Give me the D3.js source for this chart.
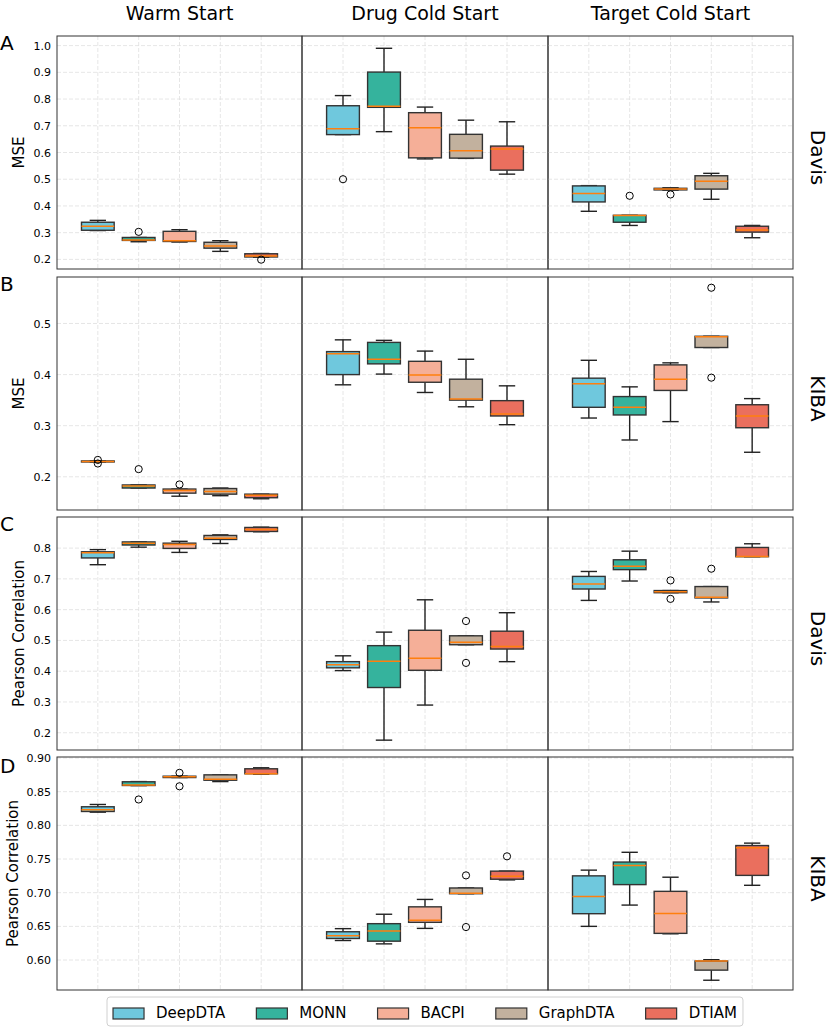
<!DOCTYPE html>
<html>
<head>
<meta charset="utf-8">
<script src="https://cdn.jsdelivr.net/npm/d3@7"></script>
<style>
body { margin: 0; background: #fff; }
text { font-family: "DejaVu Sans", sans-serif; fill: #000; }
</style>
</head>
<body>
<svg id="chart" width="830" height="1029"></svg>
<script>
var models = ["DeepDTA", "MONN", "BACPI", "GraphDTA", "DTIAM"];
var modelColors = ["#6fc8dd", "#35b39d", "#f5af98", "#c2b19e", "#ea6f5e"];
var settings = ["Warm Start", "Drug Cold Start", "Target Cold Start"];
var rowLetters = ["A", "B", "C", "D"];
var rowDatasets = ["Davis", "KIBA", "Davis", "KIBA"];
var rowMetrics = ["MSE", "MSE", "Pearson Correlation", "Pearson Correlation"];

// one entry per model: [whisker low, q1, median, q3, whisker high, outliers]
// grouped by setting: warm, drug cold, target cold
var davisMse = [
  [[0.308, 0.309, 0.324, 0.339, 0.346, []], [0.266, 0.271, 0.273, 0.282, 0.282, [0.303]], [0.265, 0.267, 0.270, 0.305, 0.311, []], [0.230, 0.242, 0.250, 0.264, 0.270, []], [0.208, 0.209, 0.213, 0.221, 0.222, [0.199]]],
  [[0.667, 0.667, 0.689, 0.775, 0.813, [0.500]], [0.678, 0.769, 0.773, 0.901, 0.990, []], [0.576, 0.580, 0.693, 0.749, 0.770, []], [0.578, 0.579, 0.607, 0.668, 0.721, []], [0.519, 0.534, 0.613, 0.624, 0.715, []]],
  [[0.380, 0.415, 0.447, 0.475, 0.476, []], [0.327, 0.339, 0.364, 0.365, 0.365, [0.438]], [0.459, 0.460, 0.463, 0.466, 0.468, [0.443]], [0.425, 0.463, 0.492, 0.513, 0.522, []], [0.281, 0.302, 0.310, 0.324, 0.327, []]]
];
var kibaMse = [
  [[0.229, 0.229, 0.230, 0.231, 0.231, [0.233, 0.226]], [0.178, 0.178, 0.182, 0.184, 0.184, [0.215]], [0.162, 0.168, 0.173, 0.176, 0.176, [0.185]], [0.163, 0.166, 0.171, 0.177, 0.178, []], [0.157, 0.159, 0.164, 0.166, 0.166, []]],
  [[0.380, 0.400, 0.441, 0.445, 0.468, []], [0.401, 0.421, 0.430, 0.463, 0.467, []], [0.365, 0.385, 0.399, 0.426, 0.446, []], [0.337, 0.350, 0.352, 0.391, 0.430, []], [0.302, 0.319, 0.323, 0.349, 0.378, []]],
  [[0.315, 0.336, 0.382, 0.393, 0.428, []], [0.272, 0.321, 0.336, 0.357, 0.376, []], [0.308, 0.369, 0.391, 0.419, 0.423, []], [0.453, 0.453, 0.474, 0.475, 0.475, [0.570, 0.394]], [0.248, 0.296, 0.319, 0.341, 0.353, []]]
];
var davisPearson = [
  [[0.746, 0.768, 0.785, 0.788, 0.795, []], [0.803, 0.810, 0.816, 0.820, 0.820, []], [0.786, 0.799, 0.812, 0.816, 0.822, []], [0.815, 0.828, 0.832, 0.841, 0.843, []], [0.853, 0.854, 0.860, 0.867, 0.868, []]],
  [[0.402, 0.411, 0.421, 0.431, 0.450, []], [0.176, 0.347, 0.432, 0.483, 0.527, []], [0.290, 0.403, 0.442, 0.533, 0.632, []], [0.486, 0.486, 0.494, 0.515, 0.515, [0.563, 0.427]], [0.431, 0.472, 0.480, 0.530, 0.590, []]],
  [[0.630, 0.667, 0.683, 0.708, 0.724, []], [0.693, 0.730, 0.741, 0.762, 0.790, []], [0.655, 0.655, 0.658, 0.662, 0.662, [0.695, 0.635]], [0.625, 0.638, 0.640, 0.675, 0.675, [0.733]], [0.772, 0.772, 0.773, 0.802, 0.814, []]]
];
var kibaPearson = [
  [[0.8196, 0.8206, 0.823, 0.8276, 0.831, []], [0.859, 0.8592, 0.860, 0.8647, 0.865, [0.8384]], [0.871, 0.871, 0.872, 0.873, 0.873, [0.878, 0.858]], [0.865, 0.867, 0.8686, 0.875, 0.875, []], [0.8759, 0.8766, 0.8766, 0.884, 0.8855, []]],
  [[0.629, 0.632, 0.636, 0.642, 0.6466, []], [0.624, 0.628, 0.643, 0.654, 0.668, []], [0.647, 0.656, 0.659, 0.679, 0.690, []], [0.6985, 0.6985, 0.699, 0.707, 0.707, [0.7257, 0.649]], [0.719, 0.720, 0.7245, 0.732, 0.732, [0.754]]],
  [[0.650, 0.6688, 0.6945, 0.725, 0.7335, []], [0.6816, 0.712, 0.7405, 0.7455, 0.760, []], [0.639, 0.6396, 0.669, 0.702, 0.723, []], [0.570, 0.585, 0.5985, 0.5985, 0.6005, []], [0.711, 0.7257, 0.7668, 0.770, 0.7736, []]]
];

var davisMseTicks = [0.2, 0.3, 0.4, 0.5, 0.6, 0.7, 0.8, 0.9, 1.0];
var kibaMseTicks = [0.2, 0.3, 0.4, 0.5];
var davisPearsonTicks = [0.2, 0.3, 0.4, 0.5, 0.6, 0.7, 0.8];
var kibaPearsonTicks = [0.60, 0.65, 0.70, 0.75, 0.80, 0.85, 0.90];
var yDomains = [[0.164, 1.036], [0.135, 0.591], [0.144, 0.901], [0.5555, 0.9015]];

var rowData = [davisMse, kibaMse, davisPearson, kibaPearson];
var rowTicks = [davisMseTicks, kibaMseTicks, davisPearsonTicks, kibaPearsonTicks];
var tickFormats = [d3.format(".1f"), d3.format(".1f"), d3.format(".1f"), d3.format(".2f")];

var svg = d3.select("#chart");
svg.append("rect").attr("width", 830).attr("height", 1029).attr("fill", "#fff");

var colEdges = [57, 302, 548, 793];
var rowTops = [36, 277, 517, 757];
var rowH = 233;
var boxW = 0.8;

// column titles
settings.forEach(function(s, c) {
  svg.append("text")
    .attr("x", (colEdges[c] + colEdges[c + 1]) / 2)
    .attr("y", 20)
    .attr("text-anchor", "middle")
    .attr("font-size", "19px")
    .text(s);
});

rowData.forEach(function(data, r) {
  var top = rowTops[r];
  var y = d3.scaleLinear().domain(yDomains[r]).range([top + rowH, top]);
  var g = svg.append("g");

  data.forEach(function(setting, c) {
    var x = d3.scaleLinear().domain([0, 6]).range([colEdges[c], colEdges[c + 1]]);
    var grid = g.append("g");

    grid.selectAll(".hg").data(rowTicks[r]).enter().append("line")
      .attr("x1", colEdges[c]).attr("x2", colEdges[c + 1])
      .attr("y1", function(d) { return y(d); })
      .attr("y2", function(d) { return y(d); })
      .attr("stroke", "#e0e0e0").attr("stroke-width", 0.8)
      .attr("stroke-dasharray", "4,2");
    grid.selectAll(".vg").data(models).enter().append("line")
      .attr("x1", function(d, i) { return x(i + 1); })
      .attr("x2", function(d, i) { return x(i + 1); })
      .attr("y1", top).attr("y2", top + rowH)
      .attr("stroke", "#e0e0e0").attr("stroke-width", 0.8)
      .attr("stroke-dasharray", "4,2");

    var boxes = g.selectAll(".box" + r + c).data(setting).enter().append("g");

    // whiskers
    boxes.append("line")
      .attr("x1", function(d, i) { return x(i + 1); })
      .attr("x2", function(d, i) { return x(i + 1); })
      .attr("y1", function(d) { return y(d[0]); })
      .attr("y2", function(d) { return y(d[1]); })
      .attr("stroke", "#222").attr("stroke-width", 1.4);
    boxes.append("line")
      .attr("x1", function(d, i) { return x(i + 1); })
      .attr("x2", function(d, i) { return x(i + 1); })
      .attr("y1", function(d) { return y(d[3]); })
      .attr("y2", function(d) { return y(d[4]); })
      .attr("stroke", "#222").attr("stroke-width", 1.4);
    // caps
    [0, 4].forEach(function(k) {
      boxes.append("line")
        .attr("x1", function(d, i) { return x(i + 1 - boxW / 4); })
        .attr("x2", function(d, i) { return x(i + 1 + boxW / 4); })
        .attr("y1", function(d) { return y(d[k]); })
        .attr("y2", function(d) { return y(d[k]); })
        .attr("stroke", "#222").attr("stroke-width", 1.4);
    });
    boxes.append("rect")
      .attr("x", function(d, i) { return x(i + 1 - boxW / 2); })
      .attr("width", x(boxW) - x(0))
      .attr("y", function(d) { return y(d[3]); })
      .attr("height", function(d) { return Math.max(y(d[1]) - y(d[3]), 0.5); })
      .attr("fill", function(d, i) { return modelColors[i]; })
      .attr("stroke", "#333").attr("stroke-width", 1.4);
    boxes.append("line")
      .attr("x1", function(d, i) { return x(i + 1 - boxW / 2); })
      .attr("x2", function(d, i) { return x(i + 1 + boxW / 2); })
      .attr("y1", function(d) { return y(d[2]); })
      .attr("y2", function(d) { return y(d[2]); })
      .attr("stroke", "#ff7f0e").attr("stroke-width", 1.5);
    boxes.each(function(d, i) {
      d3.select(this).selectAll("circle").data(d[5]).enter().append("circle")
        .attr("cx", x(i + 1))
        .attr("cy", function(v) { return y(v); })
        .attr("r", 3.6)
        .attr("fill", "none").attr("stroke", "#000").attr("stroke-width", 1);
    });

    g.append("rect")
      .attr("x", colEdges[c]).attr("y", top)
      .attr("width", colEdges[c + 1] - colEdges[c]).attr("height", rowH)
      .attr("fill", "none").attr("stroke", "#333").attr("stroke-width", 1);
  });

  // y axis labels only on the first column
  var axis = d3.axisLeft(y).tickValues(rowTicks[r]).tickFormat(tickFormats[r]).tickSize(0).tickPadding(6);
  var ax = g.append("g").attr("transform", "translate(" + colEdges[0] + ",0)").call(axis);
  ax.select(".domain").remove();
  ax.selectAll("text").attr("font-size", "11px").attr("font-family", "DejaVu Sans, sans-serif");

  var labelX = r == 3 ? 13 : 19;
  svg.append("text")
    .attr("transform", "translate(" + labelX + "," + (top + rowH / 2) + ") rotate(-90)")
    .attr("text-anchor", "middle")
    .attr("dominant-baseline", "central")
    .attr("font-size", "15px")
    .text(rowMetrics[r]);

  svg.append("text")
    .attr("x", 0).attr("y", top + 14 + (r == 3 ? 2 : 0))
    .attr("font-size", "20px")
    .text(rowLetters[r]);

  svg.append("text")
    .attr("transform", "translate(818," + (top + rowH / 2 + 5) + ") rotate(90)")
    .attr("text-anchor", "middle")
    .attr("dominant-baseline", "central")
    .attr("font-size", "20px")
    .text(rowDatasets[r]);
});

// legend
var legend = svg.append("g");
var legendItems = legend.selectAll(".item").data(models).enter().append("g");
legendItems.append("text")
  .attr("font-size", "15px")
  .attr("y", 1018)
  .text(function(d) { return d; });
var widths = [];
legendItems.selectAll("text").each(function() { widths.push(this.getComputedTextLength()); });
var patchW = 31, textPad = 12, colGap = 31, pad = 6;
var total = d3.sum(widths) + models.length * (patchW + textPad) + (models.length - 1) * colGap;
var lx = 425 - total / 2;
var starts = [];
widths.forEach(function(w) { starts.push(lx); lx += patchW + textPad + w + colGap; });

legend.insert("rect", ":first-child")
  .attr("x", starts[0] - pad).attr("y", 997)
  .attr("width", total + pad * 2).attr("height", 29)
  .attr("rx", 3)
  .attr("fill", "#fff").attr("stroke", "#d0d0d0").attr("stroke-width", 1);
legendItems.append("rect")
  .attr("x", function(d, i) { return starts[i]; })
  .attr("y", 1008).attr("width", patchW).attr("height", 11)
  .attr("fill", function(d, i) { return modelColors[i]; })
  .attr("stroke", "#333").attr("stroke-width", 1.2);
legendItems.select("text")
  .attr("x", function(d, i) { return starts[i] + patchW + textPad; });
</script>
</body>
</html>
